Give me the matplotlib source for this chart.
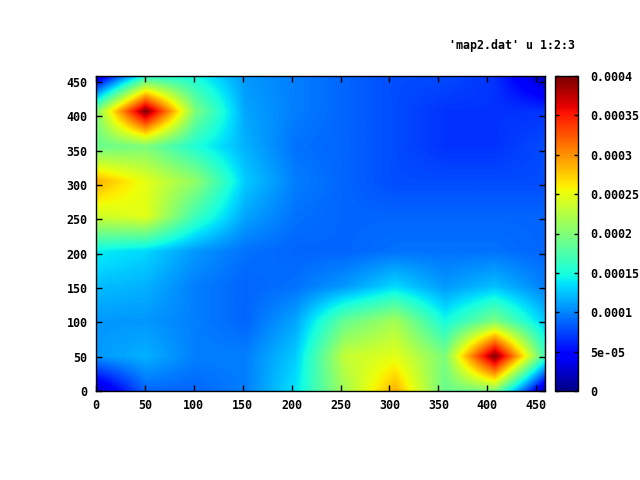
import numpy as np
import matplotlib
matplotlib.use("Agg")
import matplotlib.pyplot as plt

grid_x = [0, 51, 102, 153, 204, 255, 306, 357, 408, 459]
grid_y = [0, 51, 102, 153, 204, 255, 306, 357, 408, 459]
# rows: y = 0 (bottom) ... 459 (top); units 1e-5
row_000 = [2, 9, 9, 10, 14, 22, 29, 19, 20, 1]
row_051 = [11, 12, 10, 10, 13, 23.5, 25, 20, 40, 17]
row_102 = [11, 11, 10, 9, 11.5, 19, 22, 15, 20, 13]
row_153 = [12.5, 12, 10, 9, 9.5, 11, 13.5, 11, 12.5, 10]
row_204 = [14.5, 13.5, 11, 9.5, 9, 9, 9.5, 9.5, 9.5, 9]
row_255 = [24, 25, 17, 11.5, 9.5, 9, 9, 9, 9, 9]
row_306 = [29, 25, 21, 13, 10, 9, 8, 8, 8, 8]
row_357 = [19, 20, 15.5, 12, 9.5, 9, 8, 7, 7, 8]
row_408 = [20, 40, 20, 11.5, 10, 9, 8, 7, 7, 7]
row_459 = [2, 16, 15, 11, 10, 9, 8, 8, 7, 2]
rows = [row_000, row_051, row_102, row_153, row_204,
        row_255, row_306, row_357, row_408, row_459]
z = np.array(rows, dtype=float) * 1e-5

xticks = [0, 50, 100, 150, 200, 250, 300, 350, 400, 450]
yticks = [0, 50, 100, 150, 200, 250, 300, 350, 400, 450]
cticks = [0, 5e-5, 1e-4, 1.5e-4, 2e-4, 2.5e-4, 3e-4, 3.5e-4, 4e-4]
clabels = ["0", "5e-05", "0.0001", "0.00015", "0.0002", "0.00025", "0.0003", "0.00035", "0.0004"]
title = "'map2.dat' u 1:2:3"

plt.rcParams["font.family"] = "DejaVu Sans Mono"
plt.rcParams["font.weight"] = "bold"
plt.rcParams["font.size"] = 8.4

W, H = 640, 480
fig = plt.figure(figsize=(6.4, 4.8), dpi=100)
ax = fig.add_axes([96 / W, (H - 391) / H, 449 / W, 315 / H])
step = grid_x[1] - grid_x[0]
im = ax.imshow(z, origin="lower", cmap="jet", vmin=0, vmax=4e-4, aspect="auto",
               interpolation="bilinear", interpolation_stage="data",
               extent=(grid_x[0] - step / 2, grid_x[-1] + step / 2,
                       grid_y[0] - step / 2, grid_y[-1] + step / 2))
ax.set_xlim(0, 459)
ax.set_ylim(0, 459)
ax.set_xticks(xticks)
ax.set_yticks(yticks)
ax.tick_params(direction="in", top=True, right=True, length=4.5, width=1, pad=6, color="black")
for s in ax.spines.values():
    s.set_linewidth(1)

cax = fig.add_axes([555 / W, (H - 391) / H, 23 / W, 315 / H])
cb = fig.colorbar(im, cax=cax)
cb.set_ticks(cticks)
cb.set_ticklabels(clabels)
cb.solids.set_edgecolor("face")
cb.outline.set_linewidth(1)
cax.tick_params(direction="in", left=True, right=True, length=3, width=1, pad=9, color="black")

fig.text(575 / W, (H - 45) / H, title, ha="right", va="center")
fig.savefig("out.png", dpi=100)
